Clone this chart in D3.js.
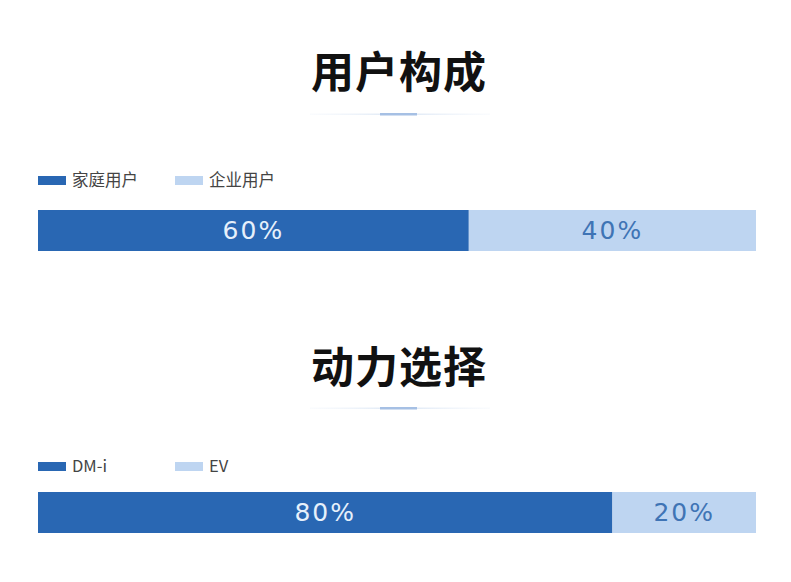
<!DOCTYPE html>
<html><head><meta charset="utf-8">
<script src="https://cdn.jsdelivr.net/npm/d3@7"></script>
<style>body{margin:0;background:#fff}svg{display:block}</style>
</head><body>
<script>
const chartTitles = ["用户构成", "动力选择"];
const userCategories = ["家庭用户", "企业用户"];
const userValues = [60, 40];
const powerCategories = ["DM-i", "EV"];
const powerValues = [80, 20];
const colors = ["#2967b3", "#bed5f1"];
const labelColors = ["#e6f0fb", "#3f74b5"];

const W = 791, H = 582;
const svg = d3.select("body").append("svg").attr("width", W).attr("height", H);
const fontCJK = "'Noto Sans CJK SC','Noto Sans',sans-serif";

const x = d3.scaleLinear().domain([0, 100]).range([38, 756]);

const panels = [
  {title: chartTitles[0], cats: userCategories, vals: userValues, titleY: 88, divY: 114.5, legY: 180, barY: 210},
  {title: chartTitles[1], cats: powerCategories, vals: powerValues, titleY: 383, divY: 408.5, legY: 466, barY: 492}
];
const barH = 41;

panels.forEach(p => {
  const g = svg.append("g");
  g.append("text").attr("x", 399).attr("y", p.titleY).attr("text-anchor", "middle")
    .attr("font-family", fontCJK).attr("font-weight", 700).attr("font-size", 43)
    .attr("letter-spacing", 1).attr("fill", "#111").text(p.title);
  // divider
  const grad = "grad" + p.titleY;
  const defs = svg.append("defs").append("linearGradient").attr("id", grad);
  defs.append("stop").attr("offset", "0%").attr("stop-color", "#eef3fa").attr("stop-opacity", 0.3);
  defs.append("stop").attr("offset", "50%").attr("stop-color", "#dbe6f4");
  defs.append("stop").attr("offset", "100%").attr("stop-color", "#eef3fa").attr("stop-opacity", 0.3);
  g.append("rect").attr("x", 310).attr("y", p.divY - 1).attr("width", 180).attr("height", 1.5).attr("fill", `url(#${grad})`);
  g.append("rect").attr("x", 380).attr("y", p.divY - 1.5).attr("width", 37).attr("height", 2.5).attr("fill", "#a6c0e4");

  // legend
  const legX = [38, 175];
  p.cats.forEach((c, i) => {
    g.append("rect").attr("x", legX[i]).attr("y", p.legY - 4).attr("width", 28).attr("height", 9).attr("fill", colors[i]);
    g.append("text").attr("x", legX[i] + 34).attr("y", p.legY + 6).attr("font-family", fontCJK)
      .attr("font-size", 16.5).attr("fill", "#444").text(c);
  });

  // stacked bar
  let acc = 0;
  const segs = p.vals.map((v, i) => { const s = {v, i, x0: acc, x1: acc + v}; acc += v; return s; });
  g.selectAll("rect.seg").data(segs).join("rect").attr("class", "seg")
    .attr("x", d => x(d.x0)).attr("y", p.barY).attr("width", d => x(d.x1) - x(d.x0)).attr("height", barH)
    .attr("fill", d => colors[d.i]);
  g.selectAll("text.lab").data(segs).join("text").attr("class", "lab")
    .attr("x", d => (x(d.x0) + x(d.x1)) / 2).attr("y", p.barY + 28.5)
    .attr("text-anchor", "middle").attr("font-family", "'DejaVu Sans',sans-serif")
    .attr("font-weight", 400).attr("font-size", 25).attr("letter-spacing", 2)
    .attr("fill", d => labelColors[d.i]).text(d => d.v + "%");
});
</script>
</body></html>
